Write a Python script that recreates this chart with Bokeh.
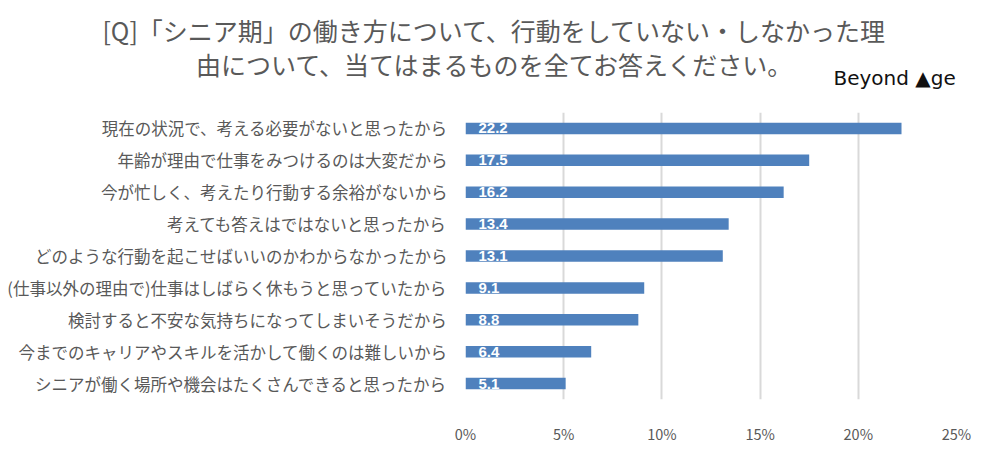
from bokeh.plotting import figure
from bokeh.models import ColumnDataSource, Label, FixedTicker, PrintfTickFormatter, Range1d
from bokeh.layouts import column
from bokeh.core.properties import value
from bokeh.embed import file_html
from bokeh.resources import INLINE

categories = [
    "現在の状況で、考える必要がないと思ったから",
    "年齢が理由で仕事をみつけるのは大変だから",
    "今が忙しく、考えたり行動する余裕がないから",
    "考えても答えはではないと思ったから",
    "どのような行動を起こせばいいのかわからなかったから",
    "(仕事以外の理由で)仕事はしばらく休もうと思っていたから",
    "検討すると不安な気持ちになってしまいそうだから",
    "今までのキャリアやスキルを活かして働くのは難しいから",
    "シニアが働く場所や機会はたくさんできると思ったから",
]
values = [22.2, 17.5, 16.2, 13.4, 13.1, 9.1, 8.8, 6.4, 5.1]
x_ticks = [0, 5, 10, 15, 20, 25]
title_lines = [
    "[Q]「シニア期」の働き方について、行動をしていない・しなかった理",
    "由について、当てはまるものを全てお答えください。",
]
logo_text = "Beyond ▲ge"

JP = "Noto Sans CJK JP"
GRAY = "#595959"
W = 986

# ---------- header (title + logo) ----------
head = figure(width=W, height=104, x_range=Range1d(0, W), y_range=Range1d(104, 0),
              output_backend="svg", toolbar_location=None,
              min_border=0, outline_line_color=None)
head.frame_align = False
head.axis.visible = False
head.grid.visible = False
head.add_layout(Label(x=494, y=29, text=title_lines[0], text_align="center",
                      text_baseline="middle", text_font=JP,
                      text_font_size="25px", text_color=GRAY))
head.add_layout(Label(x=495, y=63, text=title_lines[1], text_align="center",
                      text_baseline="middle", text_font=JP,
                      text_font_size="25px", text_color=GRAY))
head.add_layout(Label(x=833, y=77, text=logo_text, text_align="left",
                      text_baseline="middle", text_font="DejaVu Sans",
                      text_font_size="20px", text_color="#111111"))

# ---------- chart ----------
src = ColumnDataSource(dict(
    cat=categories,
    val=values,
    lab=[f"{v:.1f}" for v in values],
    zero=[0] * len(values),
))

p = figure(
    y_range=list(reversed(categories)),
    x_range=(0, 25),
    width=W, height=342,
    output_backend="svg", toolbar_location=None,
    min_border_left=465, min_border_right=W - 956,
    min_border_top=8, min_border_bottom=33,
)
p.frame_align = False
p.outline_line_color = None

p.hbar(y="cat", right="val", left=0, height=0.36, source=src,
       fill_color="#4F81BD", line_color=None)

p.text(x="zero", y="cat", text="lab", source=src, x_offset=13,
       text_align="left", text_baseline="middle",
       text_color="white", text_font=value("Liberation Sans"),
       text_font_style="bold", text_font_size="15px")

p.ygrid.grid_line_color = None
p.xgrid.grid_line_color = "#d9d9d9"
p.xgrid.grid_line_width = 2
p.xgrid.ticker = FixedTicker(ticks=x_ticks)

p.xaxis.ticker = FixedTicker(ticks=x_ticks)
p.xaxis.formatter = PrintfTickFormatter(format="%d%%")
p.xaxis.axis_line_color = None
p.xaxis.major_tick_line_color = None
p.xaxis.minor_tick_line_color = None
p.xaxis.major_label_text_font = JP
p.xaxis.major_label_text_font_size = "14.5px"
p.xaxis.major_label_text_color = GRAY
p.xaxis.major_label_standoff = 17

p.yaxis.axis_line_color = None
p.yaxis.major_tick_line_color = None
p.yaxis.minor_tick_line_color = None
p.yaxis.major_label_text_font = JP
p.yaxis.major_label_text_font_size = "16.5px"
p.yaxis.major_label_text_color = GRAY
p.yaxis.major_label_standoff = 12

layout = column(head, p, spacing=0)
open("out.html", "w").write(file_html(layout, INLINE))
